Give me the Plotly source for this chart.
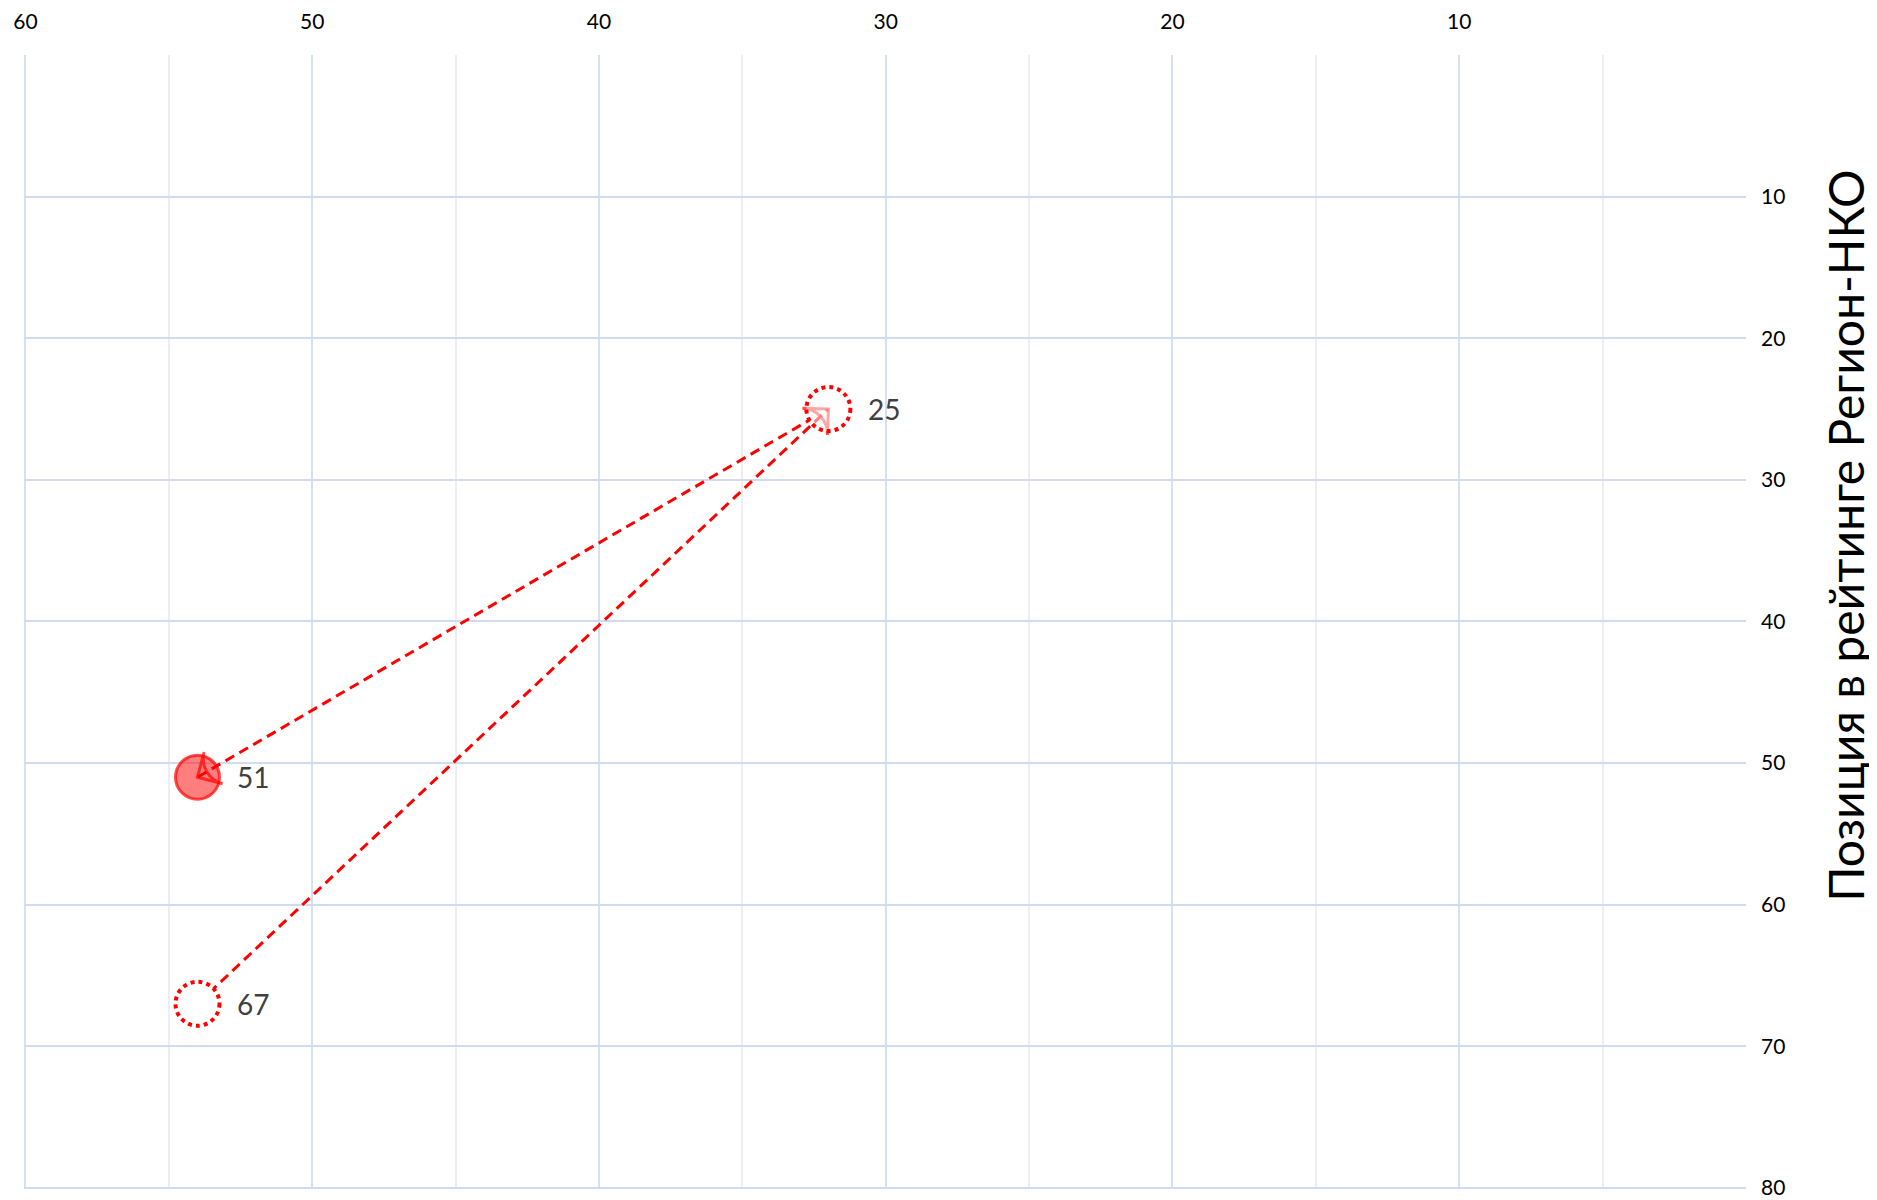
import plotly.graph_objects as go

# Data: x = position on horizontal scale, rank = position in rating
x_pos = [54, 32, 54]
rank = [67, 25, 51]

x_ticks = [60, 50, 40, 30, 20, 10]
x_minor = [55, 45, 35, 25, 15, 5]
y_ticks = [10, 20, 30, 40, 50, 60, 70, 80]
y_title = "Позиция в рейтинге Регион-НКО"

FONT = "Lato"
RED = "#ff0000"
SZ = 44


def arrow(i):
    return go.Scatter(
        x=[x_pos[i], x_pos[i + 1]], y=[rank[i], rank[i + 1]],
        mode="lines+markers",
        line=dict(color=RED, width=3, dash="10px,6px", backoff=0),
        marker=dict(size=[0, 26], symbol="arrow-wide-open", angleref="previous",
                    color=RED, line=dict(color=RED, width=3)),
        hoverinfo="skip", showlegend=False)


def overlay(idx, colors):
    return go.Scatter(
        x=[x_pos[k] for k in idx], y=[rank[k] for k in idx], mode="markers",
        marker=dict(size=SZ, color=colors, line=dict(width=0)),
        hoverinfo="skip", showlegend=False)


fig = go.Figure()

# current (filled) point = last one
fig.add_trace(go.Scatter(
    x=[x_pos[-1]], y=[rank[-1]], mode="markers",
    marker=dict(size=SZ, color="rgba(255,0,0,0.5)",
                line=dict(color="rgba(255,0,0,0.7)", width=3)),
    hoverinfo="skip", showlegend=False))

# second move (arrow into the current point)
fig.add_trace(arrow(1))
fig.add_trace(overlay([0, 1], ["white", "white"]))
# first move
fig.add_trace(arrow(0))
fig.add_trace(overlay([0, 1], ["white", "rgba(255,255,255,0.5)"]))

# dotted outline circles for previous points
for k in range(len(x_pos) - 1):
    fig.add_shape(type="circle", xref="x", yref="y",
                  xsizemode="pixel", ysizemode="pixel",
                  xanchor=x_pos[k], yanchor=rank[k],
                  x0=-SZ / 2, x1=SZ / 2, y0=-SZ / 2, y1=SZ / 2,
                  line=dict(color=RED, width=4, dash="dot"), layer="above")

# value labels
for x, y in zip(x_pos, rank):
    fig.add_annotation(x=x, y=y, text=str(y), showarrow=False,
                       xanchor="left", yanchor="middle", xshift=38,
                       font=dict(family=FONT, size=28, color="#404040"))

# axis title (placed like the original, slightly above centre)
fig.add_annotation(xref="paper", yref="paper", x=1.0, y=0.576,
                   xshift=100, text=y_title, textangle=-90, showarrow=False,
                   xanchor="center", yanchor="middle",
                   font=dict(family=FONT, size=48, color="black"))

fig.update_layout(
    width=1877, height=1200,
    margin=dict(l=16, r=139, t=47, b=19, autoexpand=False),
    paper_bgcolor="white", plot_bgcolor="white",
    font=dict(family=FONT, color="black"),
    xaxis=dict(range=[60.05, 0], side="top", tickvals=x_ticks, automargin=False,
               showgrid=True, gridcolor="#d5e0f0", gridwidth=1.5,
               minor=dict(tickvals=x_minor, showgrid=True, gridcolor="#eceef3", gridwidth=1.5),
               zeroline=False, showline=False, ticks="",
               ticklabelstandoff=21,
               tickfont=dict(size=21, family=FONT, color="black")),
    yaxis=dict(range=[80.08, 0], side="right", tickvals=y_ticks, automargin=False,
               showgrid=True, gridcolor="#cfdcef", gridwidth=1.5,
               zeroline=False, showline=False, ticks="",
               ticklabelstandoff=14, ticklabeloverflow="allow",
               tickfont=dict(size=21, family=FONT, color="black")),
)

fig.write_html("out.html")
